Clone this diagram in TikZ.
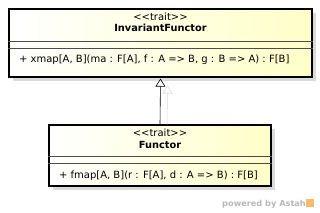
\documentclass[tikz,border=0pt]{standalone}
\usepackage{fontspec}
\setmainfont{DejaVu Sans}
\usetikzlibrary{arrows.meta,shadows}
\definecolor{classfill}{RGB}{255,255,200}
\definecolor{shadowgray}{RGB}{218,218,218}
\newcommand{\stereo}{\textless\kern0pt\textless trait\textgreater\kern0pt\textgreater}
\tikzset{
	classbox/.style={draw, line width=1.2pt, left color=white, right color=classfill,
		drop shadow={shadow xshift=4pt, shadow yshift=-4pt, fill=shadowgray, opacity=1},
		inner sep=0pt},
	sep/.style={draw=black!70, line width=.5pt},
	uml/.style={font=\fontsize{10}{12}\selectfont, inner sep=0pt, anchor=base},
	umlbold/.style={font=\fontsize{9.8}{12}\selectfont\bfseries, inner sep=0pt, anchor=base},
	inherit/.style={-{Triangle[open,length=8pt,width=10pt]}, line width=.6pt}
}
\begin{document}
\begin{tikzpicture}[x=1pt,y=-1pt]
	\useasboundingbox (0,0) rectangle (320,213);
	% classes
	\node[classbox, minimum width=303pt, minimum height=68pt] (invf) at (160.5,43) {};
	\node[classbox, minimum width=222pt, minimum height=61pt] (functor) at (160,155.5) {};
	% compartments
	\draw[sep] (invf.west |- 0,41) -- (invf.east |- 0,41);
	\draw[sep] (invf.west |- 0,48) -- (invf.east |- 0,48);
	\draw[sep] (functor.west |- 0,156) -- (functor.east |- 0,156);
	\draw[sep] (functor.west |- 0,163.5) -- (functor.east |- 0,163.5);
	% texts
	\node[uml] (invfst) at (160.5,21) {\stereo};
	\node[umlbold] (invfname) at (160.5,32) {InvariantFunctor};
	\node[uml, anchor=base west] (invfop) at ([xshift=10.5pt]invf.west |- 0,63) {+ xmap[A, B](ma : F[A], f : A => B, g : B => A) : F[B]};
	\node[uml] (functorst) at (160,137) {\stereo};
	\node[umlbold] (functorname) at (160,148) {Functor};
	\node[uml, anchor=base west] (functorop) at ([xshift=10.5pt]functor.west |- 0,178.5) {+ fmap[A, B](r : F[A], d : A => B) : F[B]};
	% generalization
	\draw[inherit, shadowgray] ([xshift=7pt]functor.north) -- ([xshift=7pt,yshift=-8pt]invf.south);
	\draw[inherit] (functor.north) -- ([yshift=-1pt]invf.south);
	% footer
	\node[font=\fontsize{8.2}{9}\selectfont\bfseries, text=black!28, anchor=base east, inner sep=0pt] (powered) at (306,206.5) {powered by Astah};
	\node[fill=orange!55, minimum size=8pt, inner sep=0pt, anchor=south west] (logo) at (306,207) {};
\end{tikzpicture}
\end{document}
